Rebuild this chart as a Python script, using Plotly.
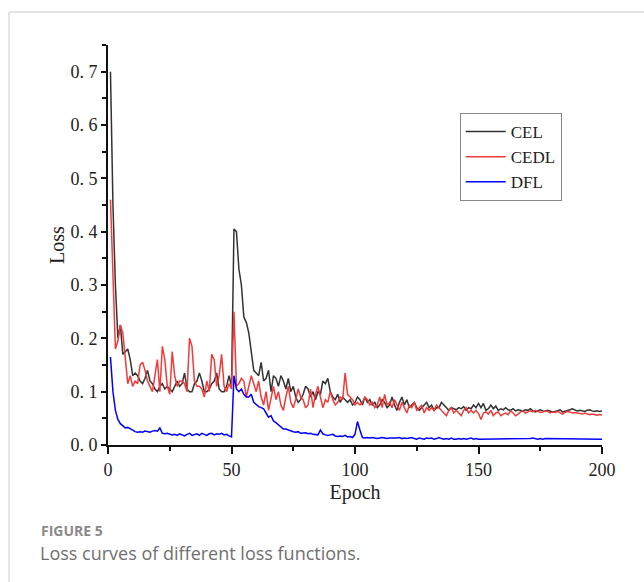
import plotly.graph_objects as go

epochs = list(range(1, 201))

cel = [
    0.70, 0.45, 0.30, 0.20, 0.225, 0.17, 0.175, 0.18, 0.16, 0.13,
    0.135, 0.13, 0.12, 0.115, 0.125, 0.14, 0.12, 0.115, 0.105, 0.10,
    0.11, 0.115, 0.105, 0.11, 0.105, 0.10, 0.11, 0.12, 0.11, 0.115,
    0.135, 0.105, 0.10, 0.10, 0.115, 0.12, 0.135, 0.12, 0.10, 0.10,
    0.105, 0.115, 0.12, 0.135, 0.105, 0.10, 0.10, 0.11, 0.13, 0.11,
    0.405, 0.40, 0.33, 0.30, 0.24, 0.23, 0.21, 0.17, 0.14, 0.135,
    0.13, 0.155, 0.12, 0.125, 0.14, 0.10, 0.13, 0.125, 0.11, 0.13,
    0.12, 0.105, 0.125, 0.10, 0.11, 0.09, 0.08, 0.085, 0.095, 0.11,
    0.105, 0.09, 0.10, 0.085, 0.10, 0.095, 0.12, 0.115, 0.125, 0.10,
    0.09, 0.085, 0.095, 0.08, 0.09, 0.085, 0.08, 0.085, 0.075, 0.08,
    0.09, 0.085, 0.075, 0.09, 0.08, 0.085, 0.075, 0.08, 0.07, 0.075,
    0.085, 0.08, 0.07, 0.075, 0.09, 0.075, 0.065, 0.08, 0.09, 0.075,
    0.085, 0.07, 0.075, 0.08, 0.07, 0.065, 0.07, 0.075, 0.08, 0.07,
    0.075, 0.065, 0.07, 0.07, 0.08, 0.075, 0.07, 0.065, 0.07, 0.068,
    0.066, 0.07, 0.068, 0.072, 0.065, 0.07, 0.068, 0.075, 0.07, 0.078,
    0.07, 0.078, 0.065, 0.068, 0.075, 0.068, 0.073, 0.065, 0.068, 0.066,
    0.07, 0.066, 0.065, 0.068, 0.064, 0.066, 0.065, 0.064, 0.066, 0.065,
    0.068, 0.064, 0.062, 0.064, 0.066, 0.064, 0.063, 0.065, 0.064, 0.062,
    0.063, 0.064, 0.066, 0.062, 0.063, 0.064, 0.066, 0.068, 0.066, 0.064,
    0.065, 0.064, 0.063, 0.065, 0.066, 0.064, 0.063, 0.064, 0.063, 0.064,
]

cedl = [
    0.46, 0.33, 0.18, 0.195, 0.225, 0.21, 0.16, 0.115, 0.13, 0.11,
    0.12, 0.115, 0.15, 0.155, 0.14, 0.12, 0.11, 0.10, 0.13, 0.16,
    0.10, 0.185, 0.16, 0.11, 0.095, 0.175, 0.13, 0.11, 0.12, 0.12,
    0.115, 0.10, 0.20, 0.185, 0.12, 0.11, 0.11, 0.105, 0.09, 0.12,
    0.10, 0.17, 0.16, 0.11, 0.13, 0.17, 0.11, 0.10, 0.115, 0.105,
    0.25, 0.11, 0.115, 0.125, 0.12, 0.09, 0.11, 0.13, 0.115, 0.10,
    0.12, 0.09, 0.075, 0.10, 0.065, 0.09, 0.11, 0.085, 0.10, 0.075,
    0.065, 0.09, 0.11, 0.08, 0.07, 0.085, 0.105, 0.09, 0.085, 0.07,
    0.075, 0.105, 0.07, 0.095, 0.11, 0.09, 0.07, 0.085, 0.08, 0.10,
    0.085, 0.075, 0.08, 0.09, 0.085, 0.135, 0.095, 0.09, 0.085, 0.075,
    0.08, 0.075, 0.08, 0.09, 0.085, 0.075, 0.08, 0.07, 0.075, 0.09,
    0.07, 0.095, 0.075, 0.08, 0.07, 0.085, 0.075, 0.065, 0.08, 0.07,
    0.06, 0.075, 0.07, 0.08, 0.065, 0.07, 0.075, 0.06, 0.07, 0.065,
    0.07, 0.065, 0.075, 0.07, 0.065, 0.06, 0.055, 0.065, 0.07, 0.06,
    0.065, 0.06, 0.055, 0.065, 0.07, 0.06, 0.065, 0.06, 0.065, 0.059,
    0.048, 0.06, 0.062, 0.058, 0.065, 0.055, 0.06, 0.062, 0.055, 0.058,
    0.06, 0.057, 0.064, 0.06, 0.055, 0.058, 0.062, 0.064, 0.06, 0.062,
    0.064, 0.062, 0.065, 0.063, 0.061, 0.062, 0.064, 0.063, 0.06, 0.062,
    0.061, 0.063, 0.06, 0.058, 0.061, 0.063, 0.062, 0.06, 0.061, 0.06,
    0.059, 0.058, 0.06, 0.059, 0.057, 0.058, 0.057, 0.056, 0.057, 0.056,
]

dfl = [
    0.165, 0.10, 0.065, 0.048, 0.04, 0.035, 0.032, 0.033, 0.031, 0.028,
    0.025, 0.024, 0.025, 0.024, 0.026, 0.025, 0.024, 0.026, 0.027, 0.026,
    0.032, 0.022, 0.021, 0.022, 0.021, 0.019, 0.020, 0.018, 0.021, 0.019,
    0.017, 0.020, 0.022, 0.018, 0.020, 0.021, 0.018, 0.022, 0.020, 0.018,
    0.021, 0.022, 0.019, 0.021, 0.020, 0.022, 0.019, 0.020, 0.017, 0.015,
    0.13, 0.105, 0.10, 0.105, 0.095, 0.09, 0.09, 0.095, 0.08, 0.075,
    0.072, 0.07, 0.068, 0.06, 0.052, 0.055, 0.045, 0.042, 0.038, 0.035,
    0.03, 0.03, 0.028, 0.027, 0.025, 0.024, 0.025, 0.022, 0.022, 0.023,
    0.021, 0.022, 0.020, 0.020, 0.019, 0.028, 0.021, 0.019, 0.018, 0.019,
    0.020, 0.017, 0.016, 0.017, 0.016, 0.018, 0.015, 0.016, 0.014, 0.020,
    0.044, 0.028, 0.014, 0.013, 0.014, 0.013, 0.014, 0.013, 0.012, 0.013,
    0.014, 0.013, 0.012, 0.013, 0.013, 0.012, 0.013, 0.014, 0.012, 0.013,
    0.012, 0.013, 0.014, 0.012, 0.011, 0.013, 0.012, 0.011, 0.013, 0.012,
    0.013, 0.011, 0.012, 0.014, 0.012, 0.011, 0.012, 0.011, 0.013, 0.011,
    0.011, 0.012, 0.011, 0.012, 0.011, 0.012, 0.013, 0.011, 0.012, 0.011,
    0.011, 0.012, 0.011, 0.012, 0.011, 0.011, 0.012, 0.011, 0.012, 0.011,
    0.012, 0.011, 0.012, 0.011, 0.011, 0.012, 0.012, 0.011, 0.012, 0.011,
    0.012, 0.013, 0.012, 0.011, 0.012, 0.011, 0.012, 0.012, 0.011, 0.012,
    0.011, 0.012, 0.012, 0.011, 0.012, 0.011, 0.012, 0.012, 0.011, 0.011,
    0.012, 0.011, 0.012, 0.011, 0.012, 0.011, 0.011, 0.012, 0.011, 0.011,
]

y_tickvals = [0.0, 0.1, 0.2, 0.3, 0.4, 0.5, 0.6, 0.7]
y_ticktext = ["0. 0", "0. 1", "0. 2", "0. 3", "0. 4", "0. 5", "0. 6", "0. 7"]
x_tickvals = [0, 50, 100, 150, 200]

serif = "Liberation Serif, Times New Roman, serif"

fig = go.Figure()
fig.add_trace(go.Scatter(x=epochs, y=cel, mode="lines", name="CEL",
                         line=dict(color="#333333", width=1.5)))
fig.add_trace(go.Scatter(x=epochs, y=cedl, mode="lines", name="CEDL",
                         line=dict(color="#f23a3a", width=1.5)))
fig.add_trace(go.Scatter(x=epochs, y=dfl, mode="lines", name="DFL",
                         line=dict(color="#0000ff", width=1.5)))

fig.update_layout(
    width=644, height=582,
    margin=dict(l=108, r=42, t=45, b=137),
    paper_bgcolor="white", plot_bgcolor="white",
    font=dict(family=serif, color="#222222", size=16),
    showlegend=True,
    legend=dict(x=0.712, y=0.83, xanchor="left", yanchor="top",
                bgcolor="white", bordercolor="#888888", borderwidth=1,
                font=dict(family=serif, size=17, color="#222222"),
                itemwidth=40, tracegroupgap=0),
    xaxis=dict(range=[0, 200], tickvals=x_tickvals, showgrid=False, zeroline=False,
               showline=True, linecolor="#111111", linewidth=2,
               ticks="outside", ticklen=7, tickwidth=1.5, tickcolor="#111111",
               minor=dict(dtick=25, ticks="outside", ticklen=4, tickwidth=1.5, tickcolor="#111111"),
               tickfont=dict(family=serif, size=18, color="#222222"),
               title=dict(text="Epoch", font=dict(family=serif, size=20, color="#222222"), standoff=6)),
    yaxis=dict(range=[0, 0.75], tickvals=y_tickvals, ticktext=y_ticktext,
               showgrid=False, zeroline=False,
               showline=True, linecolor="#111111", linewidth=2,
               ticks="outside", ticklen=5, tickwidth=1.5, tickcolor="#111111",
               minor=dict(dtick=0.05, ticks="outside", ticklen=4, tickwidth=1.5, tickcolor="#111111"),
               tickfont=dict(family=serif, size=18, color="#222222"),
               title=dict(text="Loss", font=dict(family=serif, size=20, color="#222222"), standoff=0)),
)

# page frame lines (light grey border of the figure panel)
fig.add_shape(type="line", xref="paper", yref="paper",
              x0=(9 - 108) / 494, x1=(644 - 108) / 494,
              y0=(445 - 12) / 400, y1=(445 - 12) / 400,
              line=dict(color="#dddddd", width=1.5))
fig.add_shape(type="line", xref="paper", yref="paper",
              x0=(9 - 108) / 494, x1=(9 - 108) / 494,
              y0=(445 - 12) / 400, y1=(445 - 582) / 400,
              line=dict(color="#dddddd", width=1.5))

fig.add_annotation(text="<b>FIGURE 5</b>", xref="paper", yref="paper",
                   x=(39 - 108) / 494, y=(445 - 530) / 400,
                   xanchor="left", yanchor="middle", showarrow=False,
                   font=dict(family="Open Sans, sans-serif", size=14, color="#8a8a8a"))
fig.add_annotation(text="Loss curves of different loss functions.", xref="paper", yref="paper",
                   x=(38 - 108) / 494, y=(445 - 553) / 400,
                   xanchor="left", yanchor="middle", showarrow=False,
                   font=dict(family="Open Sans, sans-serif", size=18, color="#707070"))

fig.write_html("out.html")
